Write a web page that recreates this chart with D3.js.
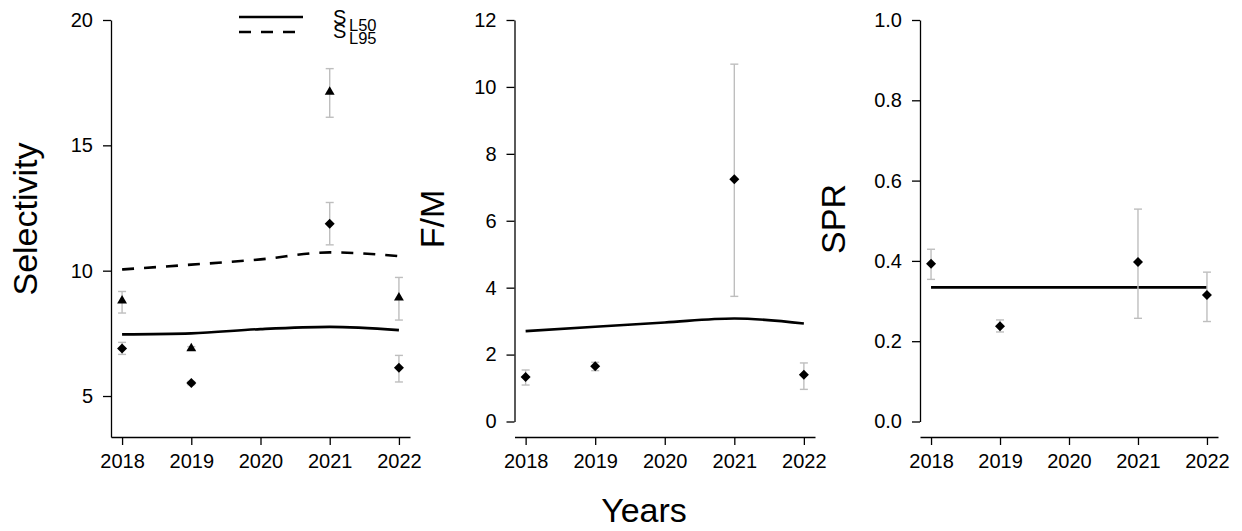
<!DOCTYPE html>
<html>
<head>
<meta charset="utf-8">
<style>
  body { margin: 0; background: #fff; }
  svg { display: block; font-family: "Liberation Sans", Arial, sans-serif; }
  .axis .domain, .axis line { stroke: #000; stroke-width: 1.3; }
  .axis text { fill: #000; font-size: 20px; font-family: "Liberation Sans", Arial, sans-serif; }
</style>
</head>
<body>
<svg width="1242" height="531"></svg>
<script src="https://d3js.org/d3.v7.min.js"></script>
<script>
// ---- data ----
var years = [2018, 2019, 2020, 2021, 2022];
var estYears = [2018, 2019, 2021, 2022];

// selectivity (SL50 diamonds, SL95 triangles)
var sl50 = [6.90, 5.52, 11.87, 6.13];
var sl50Lo = [6.66, 5.45, 11.03, 5.56];
var sl50Hi = [7.14, 5.58, 12.72, 6.62];
var sl95 = [8.80, 6.90, 17.13, 8.92];
var sl95Lo = [8.31, 6.84, 16.12, 8.03];
var sl95Hi = [9.17, 6.97, 18.06, 9.73];
var sl50Trend = [7.46, 7.50, 7.67, 7.76, 7.63];
var sl95Trend = [10.05, 10.24, 10.45, 10.73, 10.58];

// F/M
var fm = [1.33, 1.65, 7.24, 1.40];
var fmLo = [1.09, 1.52, 3.74, 0.96];
var fmHi = [1.54, 1.77, 10.68, 1.75];
var fmTrend = [2.70, 2.83, 2.96, 3.08, 2.93];

// SPR
var spr = [0.393, 0.237, 0.397, 0.315];
var sprLo = [0.354, 0.223, 0.257, 0.249];
var sprHi = [0.429, 0.253, 0.529, 0.372];
var sprTrend = [0.334, 0.334, 0.334, 0.334, 0.334];

var fmTicks = [0, 2, 4, 6, 8, 10, 12];
var selTicks = [5, 10, 15, 20];
var sprTicks = [0, 0.2, 0.4, 0.6, 0.8, 1.0];

// ---- layout ----
var svg = d3.select("svg");
var bottom = 437;

function pts(est, lo, hi) {
  return estYears.map(function(y, i) { return {year: y, v: est[i], lo: lo[i], hi: hi[i]}; });
}

var panels = [
  {left: 111, right: 410, yDomain: [3.365, 20], yRange: [bottom, 20], ticks: selTicks, fmt: d3.format("d"),
   title: "Selectivity", titleX: 37,
   series: [{pts: pts(sl50, sl50Lo, sl50Hi), shape: "diamond"}, {pts: pts(sl95, sl95Lo, sl95Hi), shape: "triangle"}],
   trends: [{v: sl50Trend, dash: null}, {v: sl95Trend, dash: "12,10"}]},
  {left: 514.5, right: 815, yDomain: [0, 12], yRange: [421.5, 20], ticks: fmTicks, fmt: d3.format("d"),
   title: "F/M", titleX: 444,
   series: [{pts: pts(fm, fmLo, fmHi), shape: "diamond"}],
   trends: [{v: fmTrend, dash: null}]},
  {left: 920, right: 1218, yDomain: [0, 1], yRange: [421.5, 20], ticks: sprTicks, fmt: d3.format(".1f"),
   title: "SPR", titleX: 845,
   series: [{pts: pts(spr, sprLo, sprHi), shape: "diamond"}],
   trends: [{v: sprTrend, dash: null}]}
];

var diamond = d3.symbol().type(d3.symbolSquare).size(50)();
var triangle = d3.symbol().type(d3.symbolTriangle).size(42)();

panels.forEach(function(p) {
  var x = d3.scaleLinear().domain([2017.84, 2022.16]).range([p.left, p.right]);
  var y = d3.scaleLinear().domain(p.yDomain).range(p.yRange);
  var g = svg.append("g");

  g.append("g")
      .attr("class", "axis")
      .attr("transform", "translate(0," + bottom + ")")
      .call(d3.axisBottom(x).tickValues(years).tickFormat(d3.format("d"))
        .tickSizeInner(8).tickSizeOuter(0).tickPadding(9));

  g.append("g")
      .attr("class", "axis")
      .attr("transform", "translate(" + p.left + ",0)")
      .call(d3.axisLeft(y).tickValues(p.ticks).tickFormat(p.fmt)
        .tickSizeInner(8).tickSizeOuter(0).tickPadding(10));

  g.append("text")
      .attr("transform", "translate(" + p.titleX + "," + 219 + ") rotate(-90)")
      .attr("text-anchor", "middle")
      .attr("font-size", 34)
      .attr("fill", "#000")
      .text(p.title);

  // trend lines
  var line = d3.line()
      .x(function(d, i) { return x(years[i]); })
      .y(function(d) { return y(d); })
      .curve(d3.curveMonotoneX);
  p.trends.forEach(function(t) {
    g.append("path")
        .attr("d", line(t.v))
        .attr("fill", "none")
        .attr("stroke", "#000")
        .attr("stroke-width", 2.6)
        .attr("stroke-dasharray", t.dash);
  });

  // error bars + points
  p.series.forEach(function(s) {
    var eb = g.append("g").attr("stroke", "#bebebe").attr("stroke-width", 1.4).attr("fill", "none")
      .selectAll("g").data(s.pts).enter().append("g");
    eb.append("line")
        .attr("x1", function(d) { return x(d.year); }).attr("x2", function(d) { return x(d.year); })
        .attr("y1", function(d) { return y(d.lo); }).attr("y2", function(d) { return y(d.hi); });
    eb.append("line")
        .attr("x1", function(d) { return x(d.year) - 4; }).attr("x2", function(d) { return x(d.year) + 4; })
        .attr("y1", function(d) { return y(d.lo); }).attr("y2", function(d) { return y(d.lo); });
    eb.append("line")
        .attr("x1", function(d) { return x(d.year) - 4; }).attr("x2", function(d) { return x(d.year) + 4; })
        .attr("y1", function(d) { return y(d.hi); }).attr("y2", function(d) { return y(d.hi); });

    g.append("g").selectAll("path").data(s.pts).enter().append("path")
        .attr("d", s.shape == "diamond" ? diamond : triangle)
        .attr("fill", "#000")
        .attr("transform", function(d) {
          return "translate(" + x(d.year) + "," + y(d.v) + ")" + (s.shape == "diamond" ? " rotate(45)" : "");
        });
  });
});

// x title
svg.append("text")
    .attr("x", 644)
    .attr("y", 522)
    .attr("text-anchor", "middle")
    .attr("font-size", 34)
    .attr("fill", "#000")
    .text("Years");

// legend (labels overlap in the original too)
var legendKeys = [{sub: "L50", dash: null, ly: 17, sy: 24, subY: 31},
                  {sub: "L95", dash: "12,10", ly: 32, sy: 38, subY: 44}];
var legend = svg.append("g").selectAll("g").data(legendKeys).enter().append("g");
legend.append("line")
    .attr("x1", 239).attr("x2", 303)
    .attr("y1", function(d) { return d.ly; }).attr("y2", function(d) { return d.ly; })
    .attr("stroke", "#000").attr("stroke-width", 2.6)
    .attr("stroke-dasharray", function(d) { return d.dash; });
legend.append("text")
    .attr("x", 333).attr("y", function(d) { return d.sy; })
    .attr("font-size", 20).attr("fill", "#000")
    .text("S");
legend.append("text")
    .attr("x", 349).attr("y", function(d) { return d.subY; })
    .attr("font-size", 16.5).attr("fill", "#000")
    .text(function(d) { return d.sub; });
</script>
</body>
</html>
